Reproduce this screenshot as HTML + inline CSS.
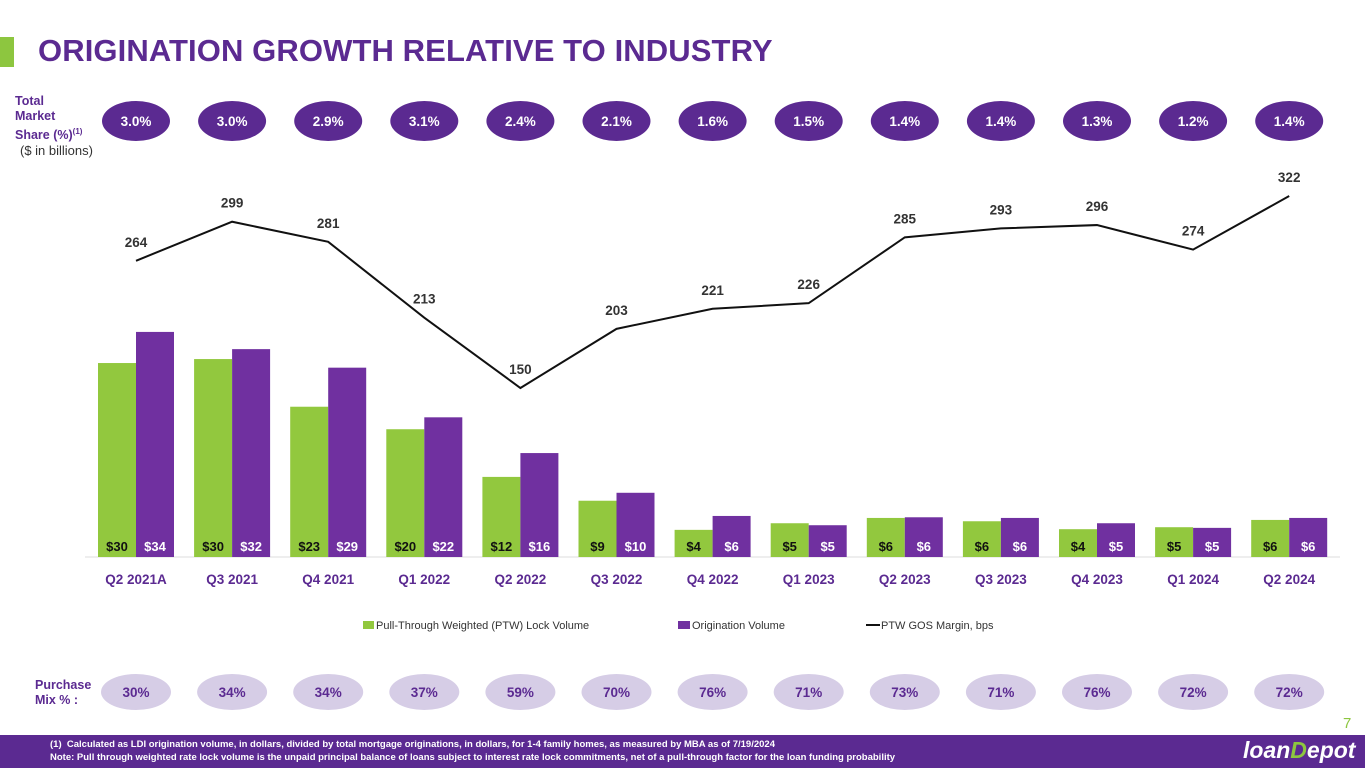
<!DOCTYPE html>
<html><head><meta charset="utf-8">
<style>
body{margin:0;width:1365px;height:768px;overflow:hidden;background:#fff;font-family:"Liberation Sans",sans-serif;position:relative}
.t{position:absolute}
</style></head><body>
<div class="t" style="left:0;top:37px;width:14px;height:30px;background:#8dc63f"></div>
<div class="t" style="left:38px;top:33px;font-size:31px;font-weight:900;color:#5b2a91;letter-spacing:0.1px">ORIGINATION GROWTH RELATIVE TO INDUSTRY</div>
<div class="t" style="left:15px;top:94px;font-size:12.5px;font-weight:bold;color:#5b2a91;line-height:15px">Total<br>Market<br>Share (%)<sup style="font-size:8px">(1)</sup></div>
<div class="t" style="left:20px;top:143px;font-size:13px;color:#333">($ in billions)</div>
<div class="t" style="left:35px;top:678px;font-size:12.5px;font-weight:bold;color:#5b2a91;line-height:15px">Purchase<br>Mix % :</div>
<div class="t" style="left:1343px;top:715px;font-size:15px;color:#8dc63f">7</div>
<div class="t" style="left:0;top:735px;width:1365px;height:33px;background:#5b2a91"></div>
<div class="t" style="left:50px;top:738px;font-size:9.5px;font-weight:bold;color:#fff;line-height:13px">(1)&nbsp; Calculated as LDI origination volume, in dollars, divided by total mortgage originations, in dollars, for 1-4 family homes, as measured by MBA as of 7/19/2024<br>Note: Pull through weighted rate lock volume is the unpaid principal balance of loans subject to interest rate lock commitments, net of a pull-through factor for the loan funding probability</div>
<div class="t" style="left:1243px;top:737px;font-size:23px;font-weight:bold;font-style:italic;color:#fff">loan<span style="color:#8dc63f">D</span>epot</div>
<svg id="c" class="t" style="left:0;top:0" width="1365" height="768"></svg>
<script>
const categories=["Q2 2021A","Q3 2021","Q4 2021","Q1 2022","Q2 2022","Q3 2022","Q4 2022","Q1 2023","Q2 2023","Q3 2023","Q4 2023","Q1 2024","Q2 2024"];
const ptwLock=[29.3,29.9,22.7,19.3,12.1,8.5,4.1,5.1,5.9,5.4,4.2,4.5,5.6];
const origination=[34,31.4,28.6,21.1,15.7,9.7,6.2,4.8,6.0,5.9,5.1,4.4,5.9];
const ptwLabels=["$30","$30","$23","$20","$12","$9","$4","$5","$6","$6","$4","$5","$6"];
const origLabels=["$34","$32","$29","$22","$16","$10","$6","$5","$6","$6","$5","$5","$6"];
const margin=[264,299,281,213,150,203,221,226,285,293,296,274,322];
const marketShare=["3.0%","3.0%","2.9%","3.1%","2.4%","2.1%","1.6%","1.5%","1.4%","1.4%","1.3%","1.2%","1.4%"];
const purchaseMix=["30%","34%","34%","37%","59%","70%","76%","71%","73%","71%","76%","72%","72%"];
const svg=document.getElementById('c');const NS='http://www.w3.org/2000/svg';
function mk(t,a,txt){const e=document.createElementNS(NS,t);for(const k in a)e.setAttribute(k,a[k]);if(txt!==undefined)e.textContent=txt;svg.appendChild(e);return e;}
const xC=i=>136+i*96.1;const base=557;const yB=v=>base-v*6.62;const yL=v=>388-(v-150)*1.116;
const F='Liberation Sans, sans-serif';
mk('line',{x1:85,x2:1340,y1:base,y2:base,stroke:'#ddd','stroke-width':1});
categories.forEach((c,i)=>{
 const x=xC(i);
 let r=mk('rect',{x:x-38,y:yB(ptwLock[i]),width:38,height:base-yB(ptwLock[i]),fill:'#92c83e'});
 
 r=mk('rect',{x:x,y:yB(origination[i]),width:38,height:base-yB(origination[i]),fill:'#7030a0'});
 
 mk('text',{x:x-19,y:551,'text-anchor':'middle','font-size':13,'font-weight':'bold',fill:'#111','font-family':F},ptwLabels[i]);
 mk('text',{x:x+19,y:551,'text-anchor':'middle','font-size':13,'font-weight':'bold',fill:'#fff','font-family':F},origLabels[i]);
 let t=mk('text',{x:x,y:584,'text-anchor':'middle','font-size':13.5,'font-weight':'bold',fill:'#5b2a91','font-family':F},c);
 
 let e=mk('ellipse',{cx:x,cy:121,rx:34,ry:20,fill:'#5b2a91'});
 
 mk('text',{x:x,y:126,'text-anchor':'middle','font-size':13.5,'font-weight':'bold',fill:'#fff','font-family':F},marketShare[i]);
 e=mk('ellipse',{cx:x,cy:692,rx:35,ry:18,fill:'#d6cde6'});
 
 mk('text',{x:x,y:697,'text-anchor':'middle','font-size':13.5,'font-weight':'bold',fill:'#5b2a91','font-family':F},purchaseMix[i]);
 mk('text',{x:x,y:yL(margin[i])-14,'text-anchor':'middle','font-size':13.5,'font-weight':'bold',fill:'#333','font-family':F},margin[i]);
});
const pl=mk('polyline',{points:margin.map((v,i)=>xC(i)+','+yL(v)).join(' '),fill:'none',stroke:'#111','stroke-width':2});

let lg=mk('rect',{x:363,y:621,width:11,height:8,fill:'#92c83e'});
mk('text',{x:376,y:629,'font-size':11,fill:'#333','font-family':F},'Pull-Through Weighted (PTW) Lock Volume');
lg=mk('rect',{x:678,y:621,width:12,height:8,fill:'#7030a0'});
mk('text',{x:692,y:629,'font-size':11,fill:'#333','font-family':F},'Origination Volume');
lg=mk('line',{x1:866,x2:880,y1:625,y2:625,stroke:'#111','stroke-width':2});
mk('text',{x:881,y:629,'font-size':11,fill:'#333','font-family':F},'PTW GOS Margin, bps');
</script>
</body></html>
